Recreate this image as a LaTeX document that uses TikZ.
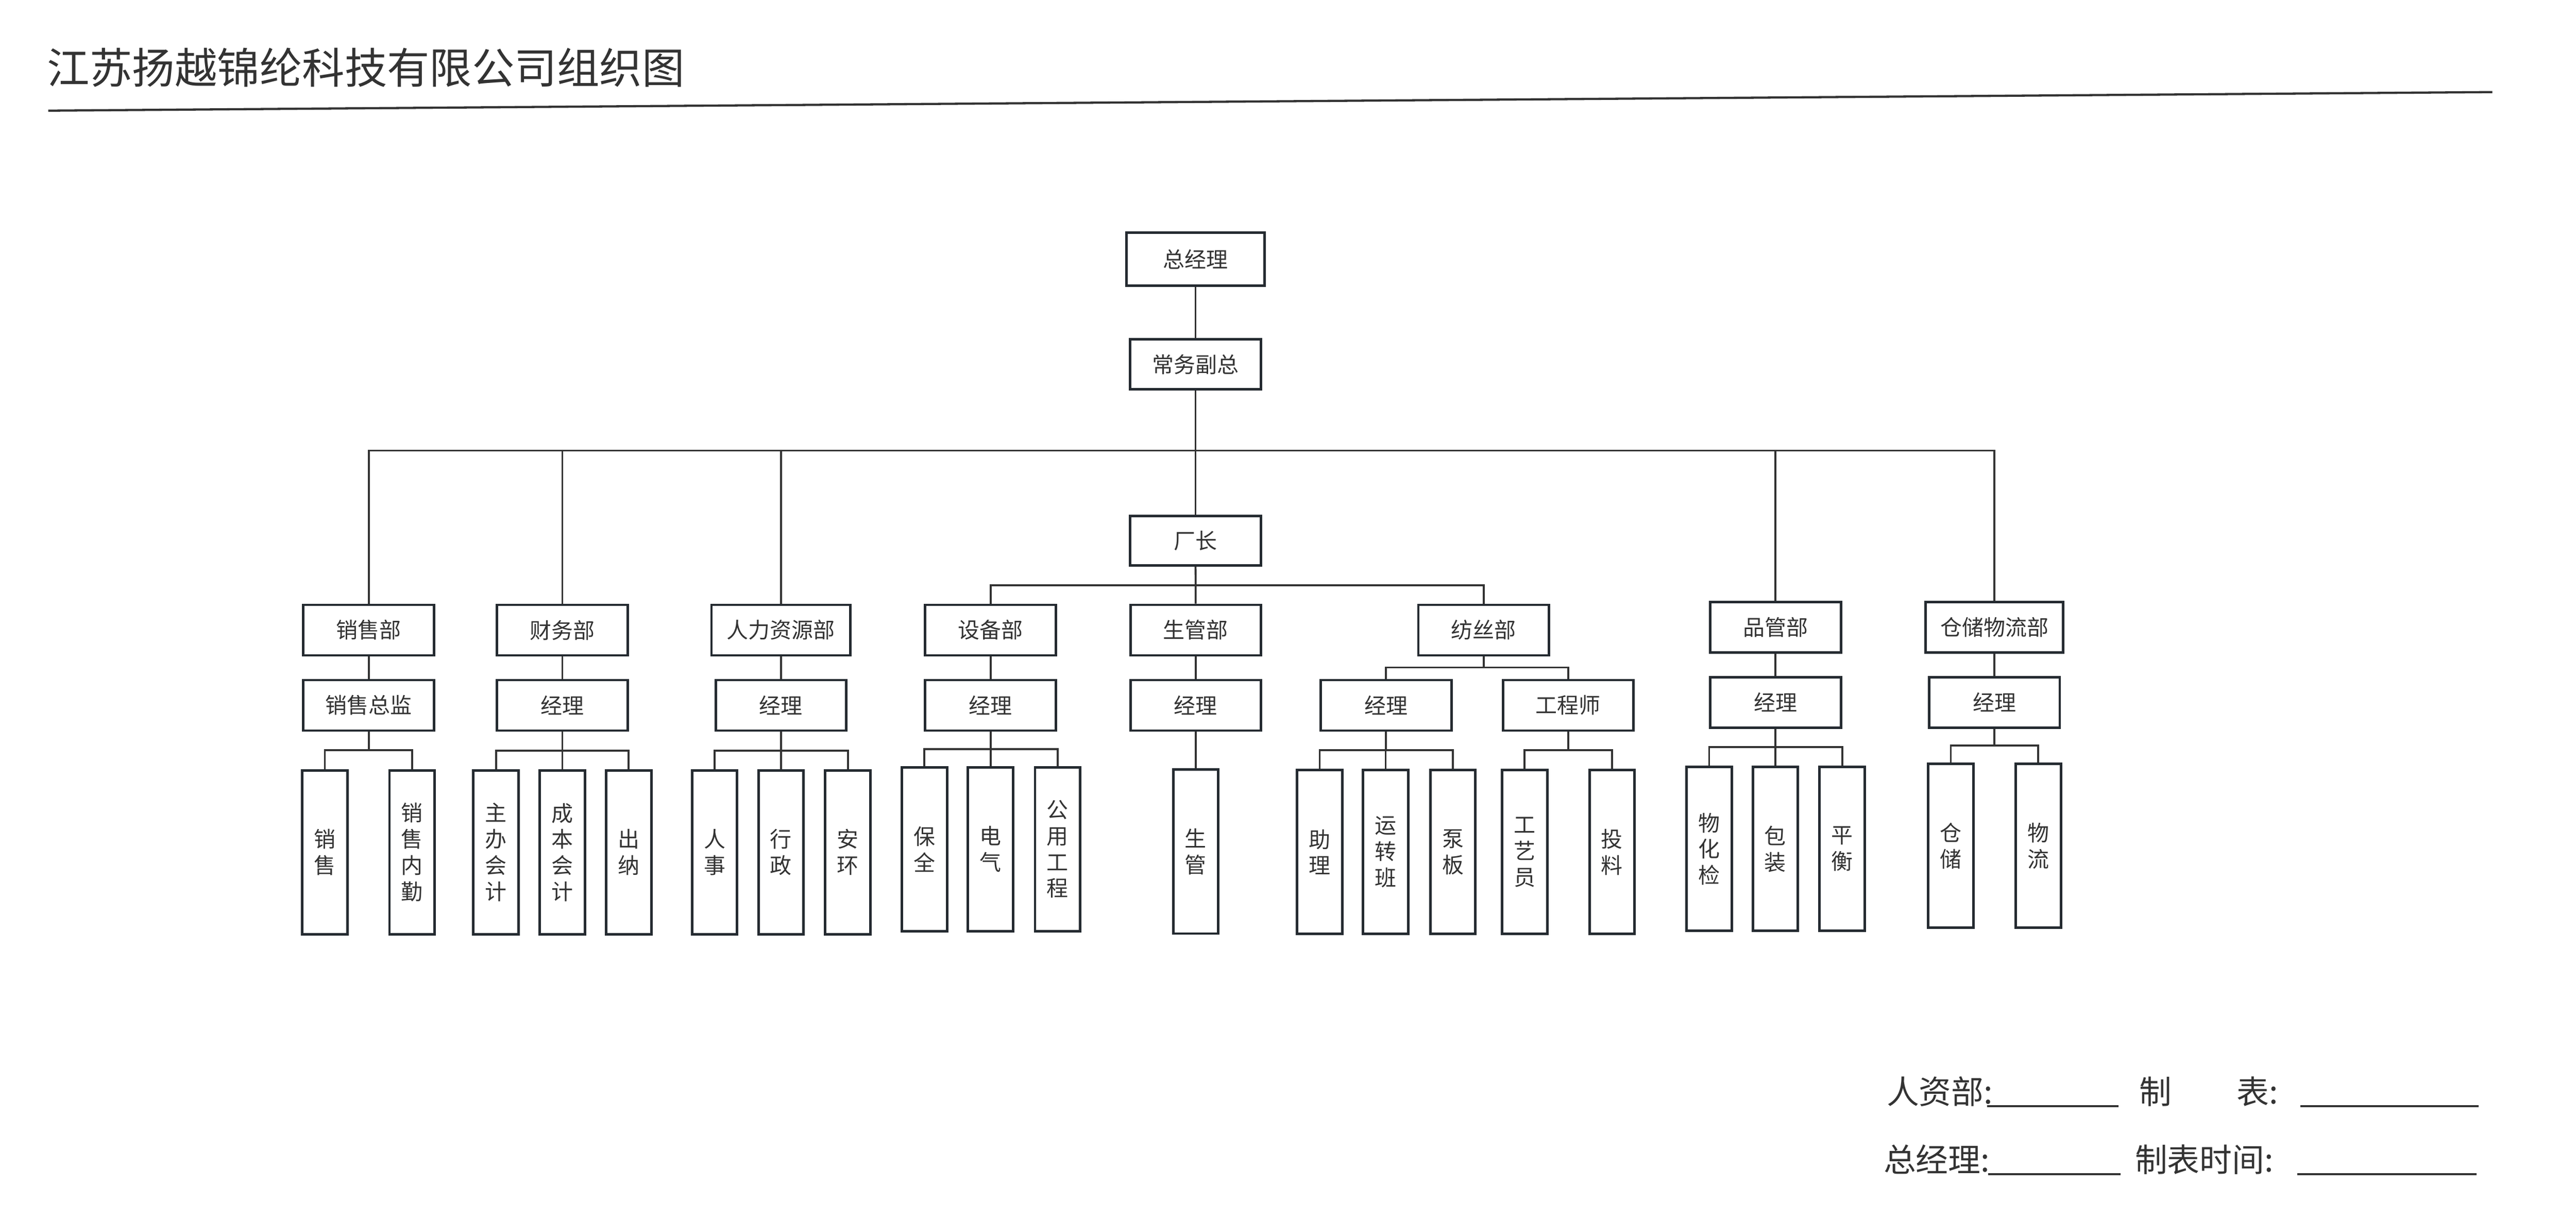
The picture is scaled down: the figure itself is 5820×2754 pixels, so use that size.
\documentclass[tikz,border=0pt]{standalone}
\usepackage{fontspec}
\newfontfamily\cjk{Noto Sans CJK SC}
\definecolor{boxc}{HTML}{252B31}
\definecolor{linec}{HTML}{333333}
\definecolor{txtc}{HTML}{333333}
\tikzset{
  box/.style={draw=boxc, line width=1.62pt, fill=white, text=txtc, inner sep=0pt,
    font=\cjk\fontsize{13.9}{16.8}\selectfont, minimum height=1.14cm, minimum width=2.95cm},
  leaf/.style={box, minimum width=1.02cm, minimum height=3.70cm, align=center},
  link/.style={draw=linec, line width=1.25pt},
  foot/.style={anchor=base west, inner sep=0pt, text=txtc, font=\cjk\fontsize{20.8}{24}\selectfont},
  uline/.style={draw=linec, line width=1.42pt},
}
\begin{document}
\begin{tikzpicture}[x=0.01cm, y=-0.01cm]
\useasboundingbox (0,0) rectangle (5820,2754);
\fill[white] (0,0) rectangle (5820,2754);

% title
\node[anchor=base west, inner sep=0pt, text=txtc, font=\cjk\fontsize{27.3}{30}\selectfont] (title) at (106,189) {江苏扬越锦纶科技有限公司组织图};
\coordinate (rl) at (109,250);
\coordinate (rr) at (5631,208);
\draw[uline] (rl) -- (rr);

% top
\node[box, minimum width=3.11cm, minimum height=1.20cm] (gm) at (2701,585.5) {总经理};
\node[box, minimum width=2.96cm, minimum height=1.13cm] (vp) at (2701,823) {常务副总};
\node[box, minimum width=2.96cm, minimum height=1.12cm] (fd) at (2701,1221.5) {厂长};

% departments
\node[box] (sales) at (833,1423.5) {销售部};
\node[box] (fin) at (1270.5,1423.5) {财务部};
\node[box, minimum width=3.14cm] (hr) at (1764.5,1423.5) {人力资源部};
\node[box] (eq) at (2238,1423.5) {设备部};
\node[box] (pc) at (2701.5,1423.5) {生管部};
\node[box] (sp) at (3352,1423.5) {纺丝部};
\node[box] (qc) at (4011.5,1417) {品管部};
\node[box, minimum width=3.11cm] (wl) at (4506,1417) {仓储物流部};

% managers
\node[box] (salesm) at (833,1593.5) {销售总监};
\node[box] (finm) at (1270.5,1593.5) {经理};
\node[box] (hrm) at (1764.5,1593.5) {经理};
\node[box] (eqm) at (2238,1593.5) {经理};
\node[box] (pcm) at (2701.5,1593.5) {经理};
\node[box] (spm) at (3131.5,1593.5) {经理};
\node[box] (spe) at (3543,1593.5) {工程师};
\node[box] (qcm) at (4011.5,1587) {经理};
\node[box] (wlm) at (4506,1587) {经理};

% leaves
\node[leaf] (l1) at (734,1925.5) {销\\售};
\node[leaf] (l2) at (931,1925.5) {销\\售\\内\\勤};
\node[leaf] (l3) at (1120.5,1925.5) {主\\办\\会\\计};
\node[leaf] (l4) at (1270.5,1925.5) {成\\本\\会\\计};
\node[leaf] (l5) at (1420.5,1925.5) {出\\纳};
\node[leaf] (l6) at (1614.5,1925.5) {人\\事};
\node[leaf] (l7) at (1764.5,1925.5) {行\\政};
\node[leaf] (l8) at (1915.5,1925.5) {安\\环};
\node[leaf] (l9) at (2088.5,1918.5) {保\\全};
\node[leaf] (l10) at (2238,1918.5) {电\\气};
\node[leaf] (l11) at (2389.5,1918.5) {公\\用\\工\\程};
\node[leaf] (l12) at (2701.5,1924) {生\\管};
\node[leaf] (l13) at (2981.5,1925) {助\\理};
\node[leaf] (l14) at (3130.5,1925) {运\\转\\班};
\node[leaf] (l15) at (3282.5,1925) {泵\\板};
\node[leaf] (l16) at (3444.5,1925) {工\\艺\\员};
\node[leaf] (l17) at (3642,1925) {投\\料};
\node[leaf] (l18) at (3861.5,1918) {物\\化\\检};
\node[leaf] (l19) at (4011,1918) {包\\装};
\node[leaf] (l20) at (4162,1918) {平\\衡};
\node[leaf] (l21) at (4407.5,1911) {仓\\储};
\node[leaf] (l22) at (4605,1911) {物\\流};

% bus coordinates
\coordinate (bus) at (0,1018);
\coordinate (fbus) at (0,1322);
\coordinate (spbus) at (0,1508);
\coordinate (b1) at (0,1695);
\coordinate (b2) at (0,1696);
\coordinate (b3) at (0,1696);
\coordinate (b4) at (0,1692);
\coordinate (b5) at (0,1695);
\coordinate (b6) at (0,1695);
\coordinate (b7) at (0,1688);
\coordinate (b8) at (0,1684);

% top connectors
\draw[link] (gm) -- (vp);
\draw[link] (vp) -- (fd);
\draw[link] (sales.north) -- (sales.north |- bus) -- (wl.north |- bus) -- (wl.north);
\draw[link] (fin.north) -- (fin.north |- bus);
\draw[link] (hr.north) -- (hr.north |- bus);
\draw[link] (qc.north) -- (qc.north |- bus);
\draw[link] (fd) -- (pc);
\draw[link] (eq.north) -- (eq.north |- fbus) -- (sp.north |- fbus) -- (sp.north);

% dept to manager
\draw[link] (sales) -- (salesm);
\draw[link] (fin) -- (finm);
\draw[link] (hr) -- (hrm);
\draw[link] (eq) -- (eqm);
\draw[link] (pc) -- (pcm);
\draw[link] (qc) -- (qcm);
\draw[link] (wl) -- (wlm);
\draw[link] (sp.south) -- (sp.south |- spbus);
\draw[link] (spm.north) -- (spm.north |- spbus) -- (spe.north |- spbus) -- (spe.north);

% manager to leaves
\draw[link] (salesm.south) -- (salesm.south |- b1);
\draw[link] (l1.north) -- (l1.north |- b1) -- (l2.north |- b1) -- (l2.north);

\draw[link] (finm.south) -- (finm.south |- b2);
\draw[link] (l3.north) -- (l3.north |- b2) -- (l5.north |- b2) -- (l5.north);
\draw[link] (l4.north) -- (l4.north |- b2);

\draw[link] (hrm.south) -- (hrm.south |- b3);
\draw[link] (l6.north) -- (l6.north |- b3) -- (l8.north |- b3) -- (l8.north);
\draw[link] (l7.north) -- (l7.north |- b3);

\draw[link] (eqm.south) -- (eqm.south |- b4);
\draw[link] (l9.north) -- (l9.north |- b4) -- (l11.north |- b4) -- (l11.north);
\draw[link] (l10.north) -- (l10.north |- b4);

\draw[link] (pcm) -- (l12);

\draw[link] (spm.south) -- (spm.south |- b5);
\draw[link] (l13.north) -- (l13.north |- b5) -- (l15.north |- b5) -- (l15.north);
\draw[link] (l14.north) -- (l14.north |- b5);

\draw[link] (spe.south) -- (spe.south |- b6);
\draw[link] (l16.north) -- (l16.north |- b6) -- (l17.north |- b6) -- (l17.north);

\draw[link] (qcm.south) -- (qcm.south |- b7);
\draw[link] (l18.north) -- (l18.north |- b7) -- (l20.north |- b7) -- (l20.north);
\draw[link] (l19.north) -- (l19.north |- b7);

\draw[link] (wlm.south) -- (wlm.south |- b8);
\draw[link] (l21.north) -- (l21.north |- b8) -- (l22.north |- b8) -- (l22.north);

% footer
\node[foot] (f1) at (4262,2494) {人资部:};
\node[foot] (f2) at (4833,2494) {制　　表:};
\node[foot] (f3) at (4255,2647) {总经理:};
\node[foot] (f4) at (4823,2647) {制表时间:};
\coordinate (u1a) at (4489,2499);
\coordinate (u1b) at (4786,2499);
\coordinate (u2a) at (5197,2499);
\coordinate (u2b) at (5600,2499);
\coordinate (u3a) at (4492,2653);
\coordinate (u3b) at (4791,2653);
\coordinate (u4a) at (5190,2653);
\coordinate (u4b) at (5595,2653);
\draw[uline] (u1a) -- (u1b);
\draw[uline] (u2a) -- (u2b);
\draw[uline] (u3a) -- (u3b);
\draw[uline] (u4a) -- (u4b);
\end{tikzpicture}
\end{document}
